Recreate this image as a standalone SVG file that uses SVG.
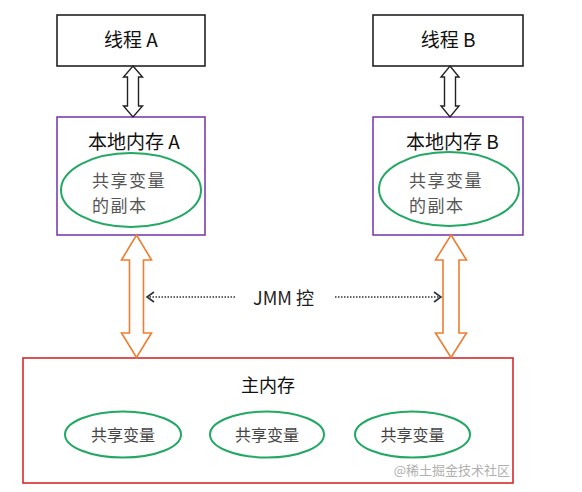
<svg xmlns="http://www.w3.org/2000/svg" width="582" height="492" viewBox="0 0 582 492">
<style>
text{font-family:"Noto Sans CJK SC","Liberation Sans",sans-serif;}
.thread{fill:#fff;stroke:#222;stroke-width:1.6}
.local{fill:#fff;stroke:#7a3fb0;stroke-width:1.6}
.main{fill:#fff;stroke:#d42a2a;stroke-width:1.6}
.var{fill:none;stroke:#22a862;stroke-width:2}
.t1{font-size:19px;fill:#111}
.t2{font-size:16px;fill:#444}
.t3{font-size:17px;fill:#555;letter-spacing:1.5px}
.bk{fill:#fff;stroke:#222;stroke-width:1.4}
.or{fill:#fff;stroke:#ed7d31;stroke-width:1.6}
.dot{stroke:#333;stroke-width:1.6;stroke-dasharray:1.5 1.5;fill:none}
</style>
<defs>
<marker id="ah" markerWidth="10" markerHeight="12" refX="8" refY="6" orient="auto" markerUnits="userSpaceOnUse">
<path d="M1,1 L8,6 L1,11" fill="none" stroke="#333" stroke-width="1.6"/>
</marker>
</defs>
<g id="threadA"><rect class="thread" x="57" y="15" width="148" height="51"/><text class="t1" x="131" y="47" text-anchor="middle">线程 A</text></g>
<g id="threadB"><rect class="thread" x="373" y="15" width="150" height="51"/><text class="t1" x="448" y="47" text-anchor="middle">线程 B</text></g>
<g id="localA"><rect class="local" x="57" y="117" width="148" height="118"/><text class="t1" x="88" y="149">本地内存 A</text>
<ellipse class="var" cx="131" cy="190" rx="70" ry="37"/><text class="t3" x="92" y="187">共享变量</text><text class="t3" x="92" y="212">的副本</text></g>
<g id="localB"><rect class="local" x="373" y="117" width="150" height="118"/><text class="t1" x="406" y="149">本地内存 B</text>
<ellipse class="var" cx="449" cy="189" rx="70" ry="37"/><text class="t3" x="409" y="187">共享变量</text><text class="t3" x="409" y="212">的副本</text></g>
<g id="main"><rect class="main" x="23" y="358" width="490" height="125"/><text class="t1" x="268" y="392" text-anchor="middle" style="font-size:18px">主内存</text>
<ellipse class="var" cx="123" cy="434.5" rx="58" ry="23"/><text class="t2" x="123" y="441" text-anchor="middle">共享变量</text>
<ellipse class="var" cx="267" cy="434.5" rx="57" ry="23"/><text class="t2" x="267" y="441" text-anchor="middle">共享变量</text>
<ellipse class="var" cx="412.5" cy="434.5" rx="57.5" ry="23"/><text class="t2" x="412.5" y="441" text-anchor="middle">共享变量</text>
<text x="510" y="475" text-anchor="end" style="font-size:13px;fill:#b0b0b0">@稀土掘金技术社区</text></g>
<g id="connectors">
<polygon class="bk" points="133,66 142.5,77 138.5,77 138.5,106 142.5,106 133,117 123.5,106 127.5,106 127.5,77 123.5,77"/>
<polygon class="bk" points="450,66 459,77 455.5,77 455.5,106 459,106 450,117 441,106 444.5,106 444.5,77 441,77"/>
<polygon class="or" points="136.5,235 151.5,260 143.5,260 143.5,333 151.5,333 136.5,357.5 121.5,333 129.5,333 129.5,260 121.5,260"/>
<polygon class="or" points="451,235 466.5,260 459,260 459,333 466.5,333 451,357.5 435.5,333 443,333 443,260 435.5,260"/>
<line class="dot" x1="235" y1="297" x2="147" y2="297" marker-end="url(#ah)"/>
<line class="dot" x1="335" y1="297" x2="441" y2="297" marker-end="url(#ah)"/>
<text x="253" y="305" style="font-size:18px;fill:#222">JMM 控</text>
</g>
</svg>
